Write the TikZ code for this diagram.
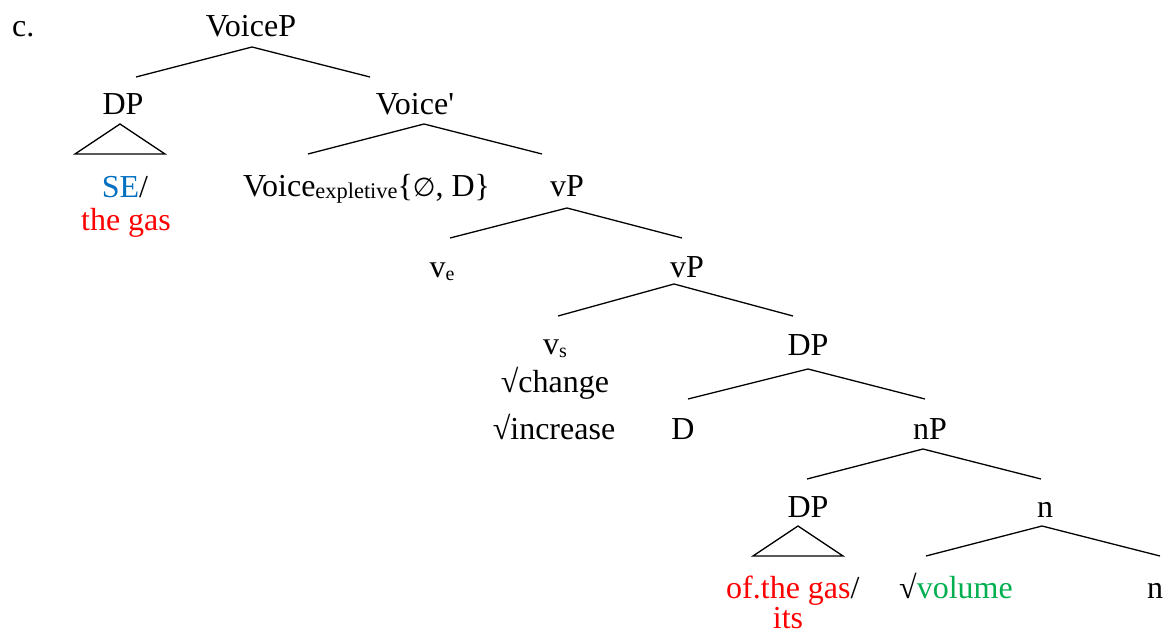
\documentclass[tikz,border=0pt]{standalone}
\usepackage{fontspec}
\setmainfont{Liberation Serif}
\newfontfamily\symfnt{DejaVu Sans}
\definecolor{seblue}{HTML}{0070C0}
\definecolor{gasred}{HTML}{FF0000}
\definecolor{rootgreen}{HTML}{00B050}
\newcommand{\sbs}[1]{\raisebox{-3pt}{\fontsize{20}{22}\selectfont #1}}
\newcommand{\sbl}[1]{\raisebox{-2pt}{\fontsize{22.4}{24}\selectfont #1}}
\begin{document}
\begin{tikzpicture}[x=1pt,y=-1pt,
  lab/.style={anchor=base, inner sep=0pt, font=\fontsize{32}{36}\selectfont},
  edge/.style={line width=1.3pt, line join=miter}]
\useasboundingbox (0,0) rectangle (1173,634);
% labels
\node[lab, anchor=base west] (c) at (12,37) {c.};
\node[lab] (voicep) at (251,37) {VoiceP};
\node[lab] (dp1) at (123,114) {DP};
\node[lab] (voicebar) at (415,114) {Voice\textquotesingle};
\node[lab] (se) at (125,197) {\textcolor{seblue}{SE}/};
\node[lab] (gas1) at (126,230) {\textcolor{gasred}{the gas}};
\node[lab, anchor=base west] (vexpl) at (243,196) {Voice\sbl{expletive}\{{\symfnt\fontsize{26}{30}\selectfont ∅}, D\}};
\node[lab] (vp1) at (567,196) {vP};
\node[lab] (ve) at (442,277) {v\sbs{e}};
\node[lab] (vp2) at (687,277) {vP};
\node[lab] (vs) at (555,354) {v\sbs{s}};
\node[lab] (change) at (555,392) {√change};
\node[lab] (increase) at (554,439) {√increase};
\node[lab] (dp2) at (808,355) {DP};
\node[lab] (d) at (683,439) {D};
\node[lab] (np) at (930,439) {nP};
\node[lab] (dp3) at (808,517) {DP};
\node[lab] (n1) at (1045,517) {n};
\node[lab, anchor=base west] (ofgas) at (726,598) {\textcolor{gasred}{of.the gas}/};
\node[lab] (its) at (788,628) {\textcolor{gasred}{its}};
\node[lab] (volume) at (956,598) {√\textcolor{rootgreen}{volume}};
\node[lab] (n2) at (1155,598) {n};
% branch points
\coordinate (voicep-b) at (252,47);
\coordinate (dp1-t) at (136,77);
\coordinate (voicebar-t) at (370,77);
\coordinate (dp1-b) at (120,124);
\coordinate (tri1-l) at (75,154);
\coordinate (tri1-r) at (165,154);
\coordinate (voicebar-b) at (424,124);
\coordinate (vexpl-t) at (308,154);
\coordinate (vp1-t) at (542,154);
\coordinate (vp1-b) at (567,208);
\coordinate (ve-t) at (450,238);
\coordinate (vp2-t) at (682,238);
\coordinate (vp2-b) at (674,284);
\coordinate (vs-t) at (558,316);
\coordinate (dp2-t) at (793,316);
\coordinate (dp2-b) at (808,369);
\coordinate (d-t) at (688,399);
\coordinate (np-t) at (925,399);
\coordinate (np-b) at (923,449);
\coordinate (dp3-t) at (807,479);
\coordinate (n1-t) at (1041,479);
\coordinate (dp3-b) at (798,526);
\coordinate (tri2-l) at (753,556);
\coordinate (tri2-r) at (843,556);
\coordinate (n1-b) at (1042,526);
\coordinate (volume-t) at (926,556);
\coordinate (n2-t) at (1160,556);
% edges
\draw[edge] (dp1-t) -- (voicep-b) -- (voicebar-t);
\draw[edge] (tri1-l) -- (dp1-b) -- (tri1-r) -- cycle;
\draw[edge] (vexpl-t) -- (voicebar-b) -- (vp1-t);
\draw[edge] (ve-t) -- (vp1-b) -- (vp2-t);
\draw[edge] (vs-t) -- (vp2-b) -- (dp2-t);
\draw[edge] (d-t) -- (dp2-b) -- (np-t);
\draw[edge] (dp3-t) -- (np-b) -- (n1-t);
\draw[edge] (tri2-l) -- (dp3-b) -- (tri2-r) -- cycle;
\draw[edge] (volume-t) -- (n1-b) -- (n2-t);
\end{tikzpicture}
\end{document}
